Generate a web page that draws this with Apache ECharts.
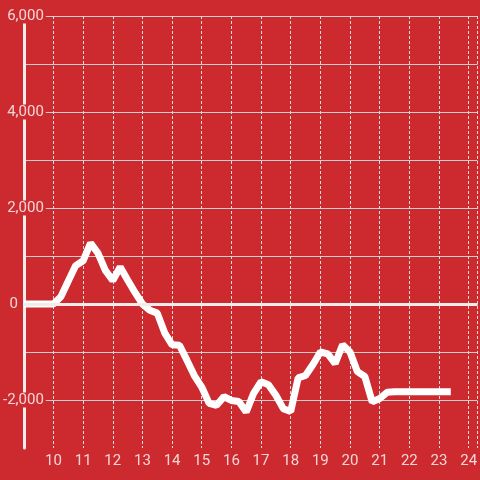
<!DOCTYPE html>
<html>
<head>
<meta charset="utf-8">
<script src="https://cdn.jsdelivr.net/npm/echarts@6/dist/echarts.min.js"></script>
<style>
html,body{margin:0;padding:0;background:#cc2a2e;}
#chart{width:480px;height:480px;}
</style>
</head>
<body>
<div id="chart"></div>
<script>
const hours = [9, 9.25, 9.5, 9.75, 10, 10.25, 10.5, 10.75, 11, 11.25, 11.5, 11.75, 12, 12.25, 12.5, 12.75,
  13, 13.25, 13.5, 13.75, 14, 14.25, 14.5, 14.75, 15, 15.25, 15.5, 15.75, 16, 16.25, 16.5, 16.75,
  17, 17.25, 17.5, 17.75, 18, 18.25, 18.5, 18.75, 19, 19.25, 19.5, 19.75, 20, 20.25, 20.5, 20.75,
  21, 21.25, 21.5, 21.75, 22, 22.25, 22.5, 22.75, 23, 23.25, 23.4];
const values = [0, 0, 0, 0, 0, 150, 480, 800, 900, 1270, 1060, 700, 490, 770, 500, 240,
  0, -130, -190, -600, -850, -860, -1170, -1490, -1730, -2070, -2110, -1930, -2010, -2030, -2250, -1860,
  -1620, -1680, -1900, -2180, -2240, -1540, -1490, -1260, -1000, -1040, -1240, -850, -1000, -1410, -1510, -2040,
  -1970, -1840, -1830, -1830, -1830, -1830, -1830, -1830, -1830, -1830, -1830];
const yTickLabels = ['6,000', '4,000', '2,000', '0', '-2,000'];

const chart = echarts.init(document.getElementById('chart'));
const bg = '#cc2a2e';
const labelFont = 'Roboto, Liberation Sans, Arial, sans-serif';
const fs = 15;
chart.setOption({
  backgroundColor: bg,
  animation: false,
  grid: { left: 21, right: 0, top: 16, bottom: 32, containLabel: false },
  xAxis: {
    type: 'value', min: 9, max: 24.3, interval: 1,
    axisLine: { show: false }, axisTick: { show: false },
    axisLabel: {
      color: '#f2d6d7', fontSize: fs, fontFamily: labelFont,
      margin: 6, showMinLabel: false, showMaxLabel: false
    },
    splitLine: { show: true, lineStyle: { color: '#dcdcdc', width: 1, type: [3, 2] } }
  },
  yAxis: {
    type: 'value', min: -3000, max: 6000, interval: 1000,
    axisLine: { show: true, lineStyle: { color: '#f1ecec', width: 3 } },
    axisTick: { show: false },
    axisLabel: {
      color: '#f2d6d7', fontSize: fs, fontFamily: labelFont,
      margin: -22,
      formatter: function (v) {
        const s = v.toLocaleString('en-US');
        if (yTickLabels.indexOf(s) < 0) return '';
        return s === '0' ? '{z|0}' : '{a|' + s + '}';
      },
      rich: {
        a: { color: '#f2d6d7', fontSize: fs, fontFamily: labelFont, backgroundColor: bg, lineHeight: 12, padding: [0, 2, 0, 0] },
        z: { color: '#f2d6d7', fontSize: fs, fontFamily: labelFont, lineHeight: 12, padding: [0, 28, 0, 0] }
      }
    },
    splitLine: { show: true, showMinLine: false, lineStyle: { color: '#cfcfcf', width: 1 } }
  },
  series: [{
    type: 'line',
    data: hours.map((h, i) => [h, values[i]]),
    showSymbol: false, symbol: 'none',
    lineStyle: { color: '#ffffff', width: 7 },
    z: 3,
    markLine: {
      silent: true, symbol: 'none', label: { show: false },
      lineStyle: { color: '#f1ecec', width: 3, type: 'solid' },
      data: [{ yAxis: 0 }]
    }
  }]
});
</script>
</body>
</html>
